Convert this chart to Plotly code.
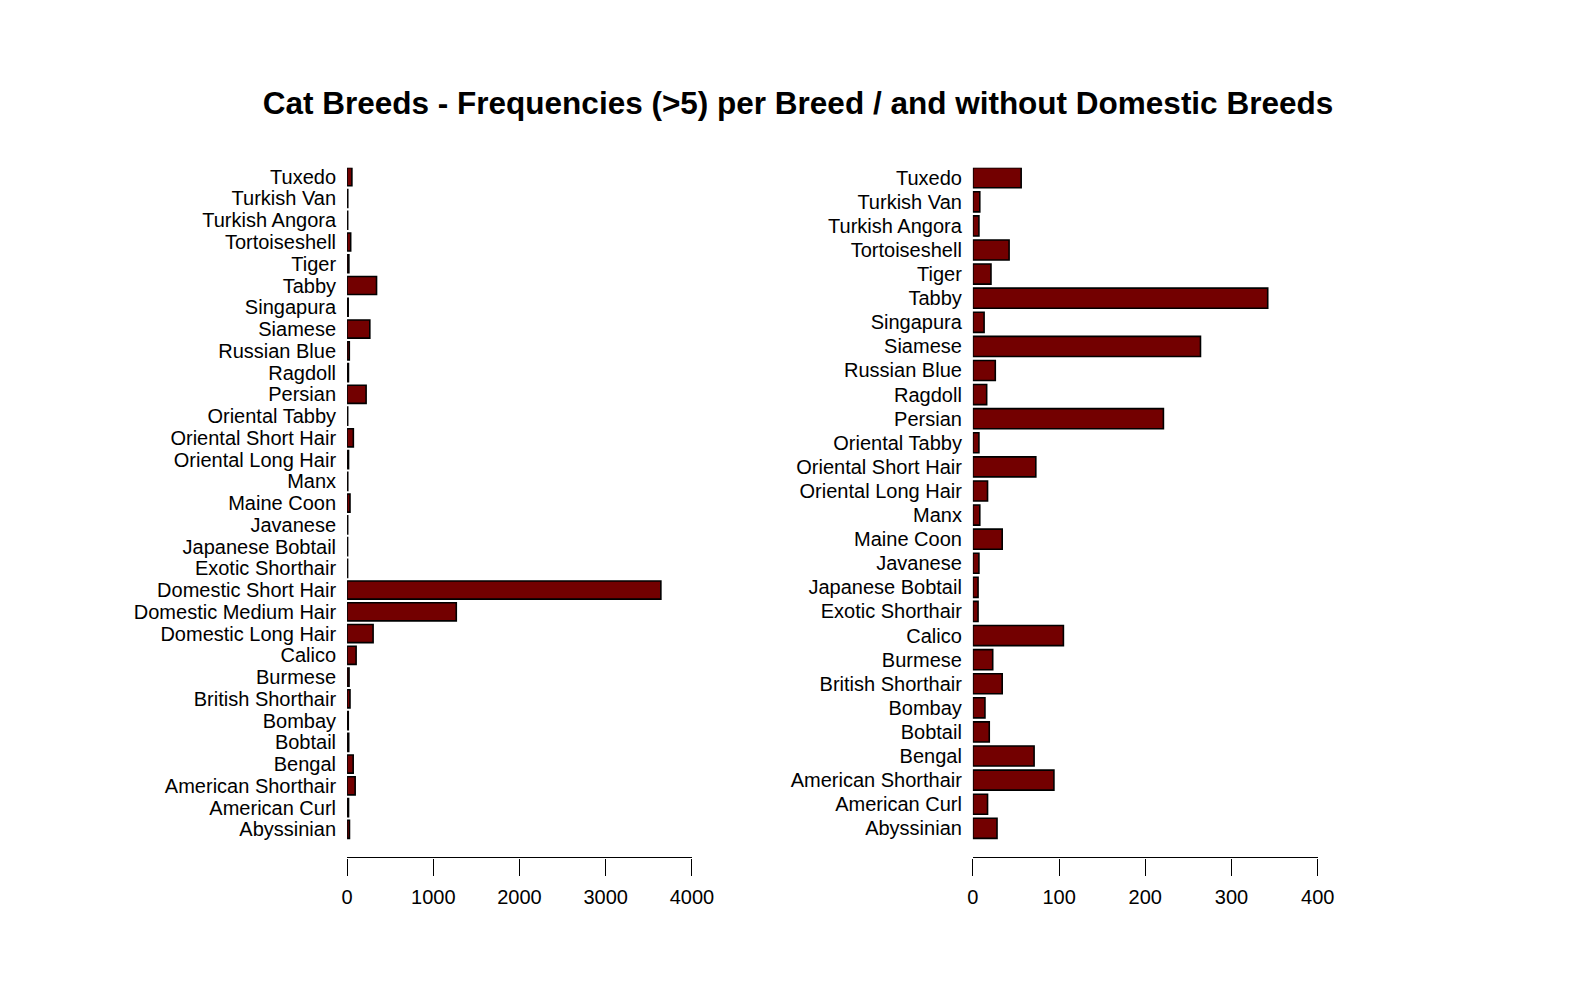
import plotly.graph_objects as go

breeds = ["Abyssinian", "American Curl", "American Shorthair", "Bengal", "Bobtail",
          "Bombay", "British Shorthair", "Burmese", "Calico", "Domestic Long Hair",
          "Domestic Medium Hair", "Domestic Short Hair", "Exotic Shorthair",
          "Japanese Bobtail", "Javanese", "Maine Coon", "Manx", "Oriental Long Hair",
          "Oriental Short Hair", "Oriental Tabby", "Persian", "Ragdoll", "Russian Blue",
          "Siamese", "Singapura", "Tabby", "Tiger", "Tortoiseshell", "Turkish Angora",
          "Turkish Van", "Tuxedo"]
counts = [28, 17, 94, 71, 19,
          14, 34, 23, 105, 302,
          1267, 3640, 6,
          6, 7, 34, 8, 17,
          73, 7, 221, 16, 26,
          264, 13, 342, 21, 42, 7,
          8, 56]

domestic = ["Domestic Long Hair", "Domestic Medium Hair", "Domestic Short Hair"]
breeds_nd = [b for b in breeds if b not in domestic]
counts_nd = [c for b, c in zip(breeds, counts) if b not in domestic]

left_ticks = [0, 1000, 2000, 3000, 4000]
right_ticks = [0, 100, 200, 300, 400]

W, H = 1596, 1007
FILL = "#730000"
FONT = "Liberation Sans, Arial, Helvetica, sans-serif"

fig = go.Figure()
fig.add_trace(go.Bar(y=breeds, x=counts, orientation="h", xaxis="x", yaxis="y",
                     marker=dict(color=FILL, line=dict(color="black", width=1.6)),
                     showlegend=False, hoverinfo="x+y"))
fig.add_trace(go.Bar(y=breeds_nd, x=counts_nd, orientation="h", xaxis="x2", yaxis="y2",
                     marker=dict(color=FILL, line=dict(color="black", width=1.6)),
                     showlegend=False, hoverinfo="x+y"))

def px_x(p):
    return p / W

def px_y(p):
    return 1 - p / H

BAR_TOP, BAR_BOT, AXIS_Y = 158, 830, 849
bar_half = 0.5 - (0.2 / 1.2) / 2

def yrange(n):
    span_units = (n - 1) + 2 * bar_half
    ppu = (BAR_BOT - BAR_TOP) / span_units
    low = -bar_half - (AXIS_Y - BAR_BOT) / ppu
    high = (n - 1) + bar_half
    return [low, high]

xaxis_common = dict(showgrid=False, zeroline=False, showline=True, linecolor="black",
                    linewidth=1.4, ticks="outside", ticklen=17, tickwidth=1.4,
                    tickcolor="black", tickfont=dict(size=20, color="black", family=FONT),
                    ticklabelstandoff=4, fixedrange=True)
yaxis_common = dict(showgrid=False, zeroline=False, showline=False, ticks="outside",
                    ticklen=6, tickcolor="rgba(0,0,0,0)", type="category",
                    tickfont=dict(size=20, color="black", family=FONT), fixedrange=True)

fig.update_layout(
    width=W, height=H,
    margin=dict(l=0, r=0, t=0, b=0),
    paper_bgcolor="white", plot_bgcolor="white",
    bargap=0.2 / 1.2,
    font=dict(family=FONT, color="black"),
    title=dict(text="<b>Cat Breeds - Frequencies (>5) per Breed / and without Domestic Breeds</b>",
               x=798 / W, xanchor="center", xref="paper",
               y=px_y(93), yanchor="middle", yref="paper",
               font=dict(size=31.5, family=FONT, color="black")),
    xaxis=dict(domain=[px_x(339), px_x(690)], range=[0, 4000], tickvals=left_ticks,
               anchor="y", **xaxis_common),
    yaxis=dict(domain=[px_y(AXIS_Y), px_y(BAR_TOP)], range=yrange(len(breeds)),
               categoryorder="array", categoryarray=breeds, tickmode="array",
               tickvals=breeds, ticktext=breeds, anchor="x", **yaxis_common),
    xaxis2=dict(domain=[px_x(976), px_x(1327)], range=[0, 400], tickvals=right_ticks,
                anchor="y2", **xaxis_common),
    yaxis2=dict(domain=[px_y(AXIS_Y), px_y(BAR_TOP)], range=yrange(len(breeds_nd)),
                categoryorder="array", categoryarray=breeds_nd, tickmode="array",
                tickvals=breeds_nd, ticktext=breeds_nd, anchor="x2", **yaxis_common),
)

fig.write_html("out.html")
